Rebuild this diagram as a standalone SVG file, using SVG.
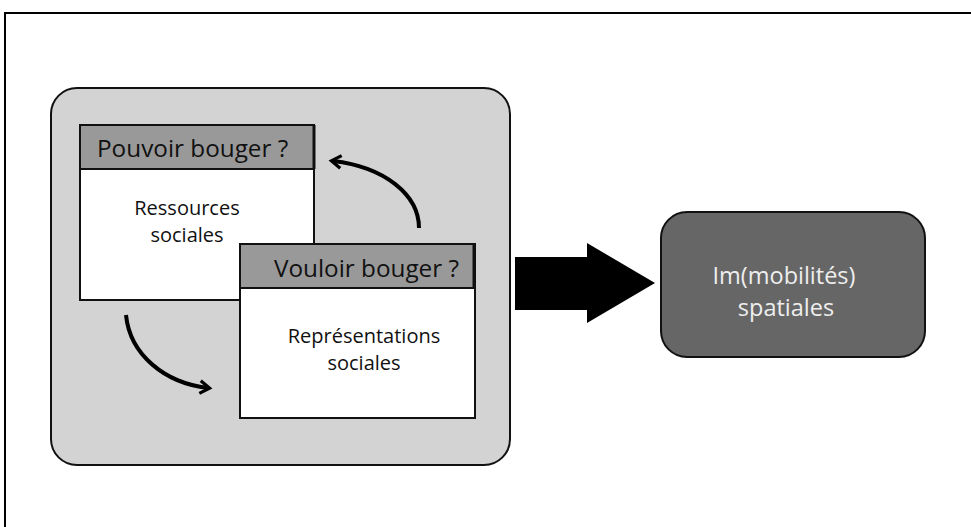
<svg xmlns="http://www.w3.org/2000/svg" width="971" height="527" viewBox="0 0 971 527">
<style>
text{font-family:"Open Sans","Liberation Sans",sans-serif;fill:#111}
.hdr{font-size:24.3px}
.body{font-size:20px}
.res{font-size:23.5px;fill:#eee}
.card{fill:#fff;stroke:#111;stroke-width:2}
.head{fill:#999;stroke:#111;stroke-width:2}
.curve{fill:none;stroke:#000;stroke-width:4}
</style>
<defs>
<marker id="ah" viewBox="0 0 10 10" refX="6" refY="5" markerWidth="4" markerHeight="4" orient="auto" markerUnits="strokeWidth">
<path d="M1,1 L7,5 L1,9" fill="none" stroke="#000" stroke-width="2"/>
</marker>
</defs>
<rect width="971" height="527" fill="#fff"/>
<path d="M5,527 V13 H971" fill="none" stroke="#000" stroke-width="2"/>
<g id="container">
<rect x="51" y="88" width="459" height="377" rx="26" fill="#d3d3d3" stroke="#111" stroke-width="2"/>
</g>
<g id="pouvoir">
<rect class="card" x="80" y="125" width="234" height="175"/>
<rect class="head" x="80" y="125" width="234" height="44"/>
<line x1="314" y1="125" x2="314" y2="169" stroke="#111" stroke-width="3"/>
<text class="hdr" x="97" y="157">Pouvoir bouger ?</text>
<text class="body" x="187" y="215" text-anchor="middle">Ressources</text>
<text class="body" x="187" y="242" text-anchor="middle">sociales</text>
</g>
<g id="vouloir">
<rect class="card" x="240" y="244" width="235" height="174"/>
<rect class="head" x="240" y="244" width="235" height="44"/>
<line x1="474" y1="244" x2="474" y2="288" stroke="#111" stroke-width="3"/>
<text class="hdr" x="459" y="277" text-anchor="end">Vouloir bouger ?</text>
<text class="body" x="364" y="343" text-anchor="middle">Représentations</text>
<text class="body" x="364" y="370" text-anchor="middle">sociales</text>
</g>
<g id="result">
<rect x="661" y="212" width="264" height="145" rx="26" fill="#666" stroke="#111" stroke-width="2"/>
<text class="res" x="784" y="284" text-anchor="middle">Im(mobilités)</text>
<text class="res" x="786" y="316" text-anchor="middle">spatiales</text>
</g>
<g id="connectors">
<path class="curve" d="M419,228 C419,195 385,167 333,161" marker-end="url(#ah)"/>
<path class="curve" d="M126,315 C130,355 165,383 208,388" marker-end="url(#ah)"/>
<polygon points="515,257 587,257 587,243 655,283 587,323 587,310 515,310" fill="#000"/>
</g>
</svg>
